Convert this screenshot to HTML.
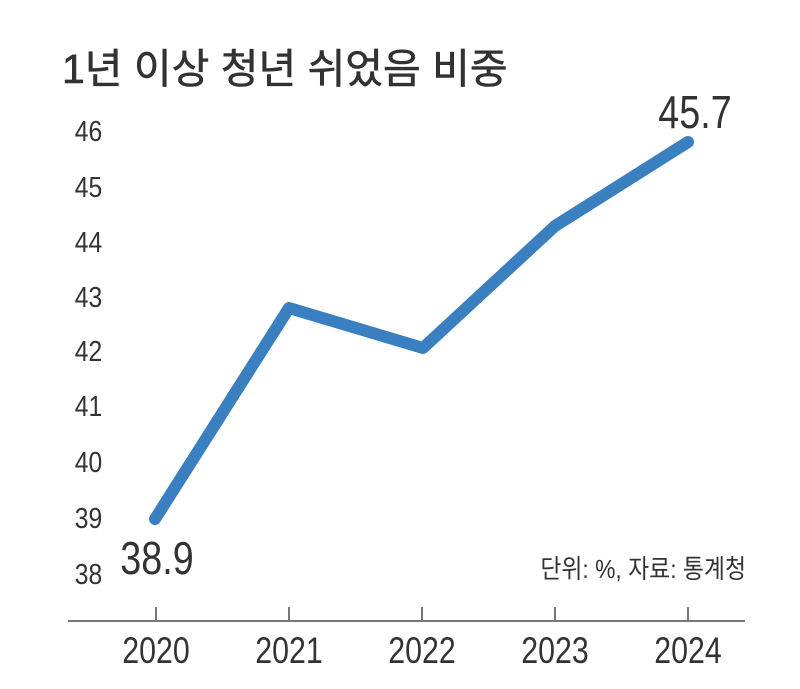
<!DOCTYPE html>
<html><head><meta charset="utf-8"><style>
body{margin:0;background:#fff;}
svg text{font-family:"Liberation Sans","Noto Sans CJK KR",sans-serif;fill:#333;}
</style></head><body>
<svg width="800" height="684" viewBox="0 0 800 684" xmlns="http://www.w3.org/2000/svg">
<text x="62" y="83" font-size="41" fill="#2d2d2d" stroke="#2d2d2d" stroke-width="0.6">1년 이상 청년 쉬었음 비중</text>
<g font-size="29" transform="scale(0.85 1)">
<text x="88" y="141">46</text>
<text x="88" y="197">45</text>
<text x="88" y="252">44</text>
<text x="88" y="307">43</text>
<text x="88" y="361">42</text>
<text x="88" y="416">41</text>
<text x="88" y="472">40</text>
<text x="88" y="528">39</text>
<text x="88" y="584">38</text>
</g>
<line x1="68" y1="621" x2="745" y2="621" stroke="#777" stroke-width="2"/>
<g stroke="#777" stroke-width="2">
<line x1="156" y1="607" x2="156" y2="621"/>
<line x1="289" y1="607" x2="289" y2="621"/>
<line x1="422" y1="607" x2="422" y2="621"/>
<line x1="555" y1="607" x2="555" y2="621"/>
<line x1="688" y1="607" x2="688" y2="621"/>
</g>
<g font-size="37" text-anchor="middle">
<text transform="translate(156 663) scale(0.82 1)">2020</text>
<text transform="translate(289 663) scale(0.82 1)">2021</text>
<text transform="translate(422 663) scale(0.82 1)">2022</text>
<text transform="translate(555 663) scale(0.82 1)">2023</text>
<text transform="translate(688 663) scale(0.82 1)">2024</text>
</g>
<polyline points="155,519 289,308 423,348 555,226 688,142" fill="none" stroke="#3a7fc0" stroke-width="12" stroke-linecap="round" stroke-linejoin="round"/>
<text font-size="46" text-anchor="middle" transform="translate(157 574) scale(0.82 1)">38.9</text>
<text font-size="46" text-anchor="middle" transform="translate(695 128) scale(0.82 1)">45.7</text>
<text font-size="26" text-anchor="end" transform="translate(746 578) scale(0.88 1)">단위: %, 자료: 통계청</text>
</svg>
</body></html>
